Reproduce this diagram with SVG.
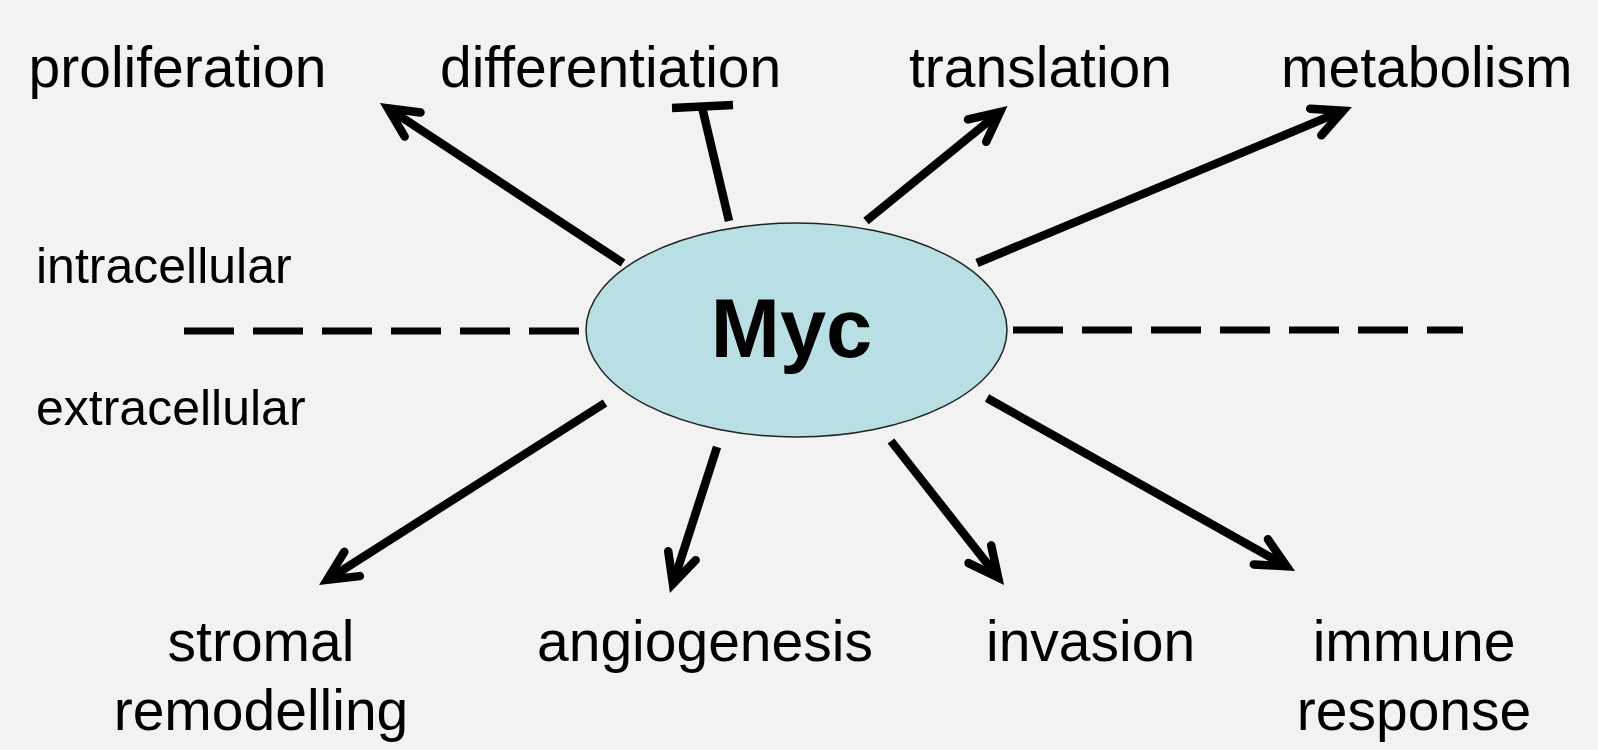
<svg xmlns="http://www.w3.org/2000/svg" width="1598" height="750" viewBox="0 0 1598 750">
<style>
  .lbl { font-family: "Liberation Sans", Arial, Helvetica, sans-serif; font-size: 57px; fill: #000; }
  .side { font-family: "Liberation Sans", Arial, Helvetica, sans-serif; font-size: 50px; fill: #000; }
  .myc { font-family: "Liberation Sans", Arial, Helvetica, sans-serif; font-size: 83px; font-weight: bold; fill: #000; }
  .arrow { fill: none; stroke: #000; stroke-width: 8.5; stroke-linecap: butt; marker-end: url(#head); }
  .bar { fill: none; stroke: #000; stroke-width: 8.5; stroke-linecap: butt; }
  .dash { fill: none; stroke: #000; stroke-width: 7; stroke-dasharray: 50 19; }
</style>
<defs>
  <marker id="head" markerUnits="userSpaceOnUse" orient="auto" markerWidth="1" markerHeight="1" refX="0" refY="0" style="overflow:visible">
    <path d="M-29.5,-14.4 L0,0 L-29.5,14.4" fill="none" stroke="#000" stroke-width="8.5" stroke-linecap="round" stroke-linejoin="miter" stroke-miterlimit="10"/>
  </marker>
</defs>
<rect x="0" y="0" width="1598" height="750" fill="#f2f2f2"/>

<g id="connectors">
  <line class="dash" x1="184" y1="331" x2="580" y2="331"/>
  <line class="dash" x1="1013" y1="330" x2="1463" y2="330"/>
  <line class="arrow" x1="623" y1="263" x2="388" y2="108.3"/>
  <line class="bar" x1="729" y1="221" x2="702" y2="107"/>
  <line class="bar" x1="672" y1="108" x2="733" y2="105" stroke-width="9"/>
  <line class="arrow" x1="866" y1="221" x2="1000" y2="112"/>
  <line class="arrow" x1="977" y1="263" x2="1343" y2="110.7"/>
  <line class="arrow" x1="605" y1="403" x2="327.2" y2="579.8"/>
  <line class="arrow" x1="717" y1="447" x2="672.9" y2="583.8"/>
  <line class="arrow" x1="891" y1="441" x2="998.1" y2="577.4"/>
  <line class="arrow" x1="987" y1="398" x2="1286.6" y2="566.3"/>
</g>

<g id="myc">
  <ellipse cx="796.5" cy="330" rx="210.5" ry="107" fill="#b8e0e4" stroke="#222" stroke-width="1.5"/>
  <text class="myc" x="791.5" y="357" text-anchor="middle">Myc</text>
</g>

<g id="proliferation"><text class="lbl" x="28.5" y="87">proliferation</text></g>
<g id="differentiation"><text class="lbl" x="440" y="87">differentiation</text></g>
<g id="translation"><text class="lbl" x="909" y="87">translation</text></g>
<g id="metabolism"><text class="lbl" x="1281" y="87">metabolism</text></g>

<g id="intracellular"><text class="side" x="36" y="283">intracellular</text></g>
<g id="extracellular"><text class="side" x="36" y="425">extracellular</text></g>

<g id="stromal-remodelling">
  <text class="lbl" x="261" y="661" text-anchor="middle">stromal</text>
  <text class="lbl" x="261" y="730" text-anchor="middle">remodelling</text>
</g>
<g id="angiogenesis"><text class="lbl" x="537" y="661">angiogenesis</text></g>
<g id="invasion"><text class="lbl" x="986" y="661">invasion</text></g>
<g id="immune-response">
  <text class="lbl" x="1414" y="661" text-anchor="middle">immune</text>
  <text class="lbl" x="1414" y="730" text-anchor="middle">response</text>
</g>
</svg>
